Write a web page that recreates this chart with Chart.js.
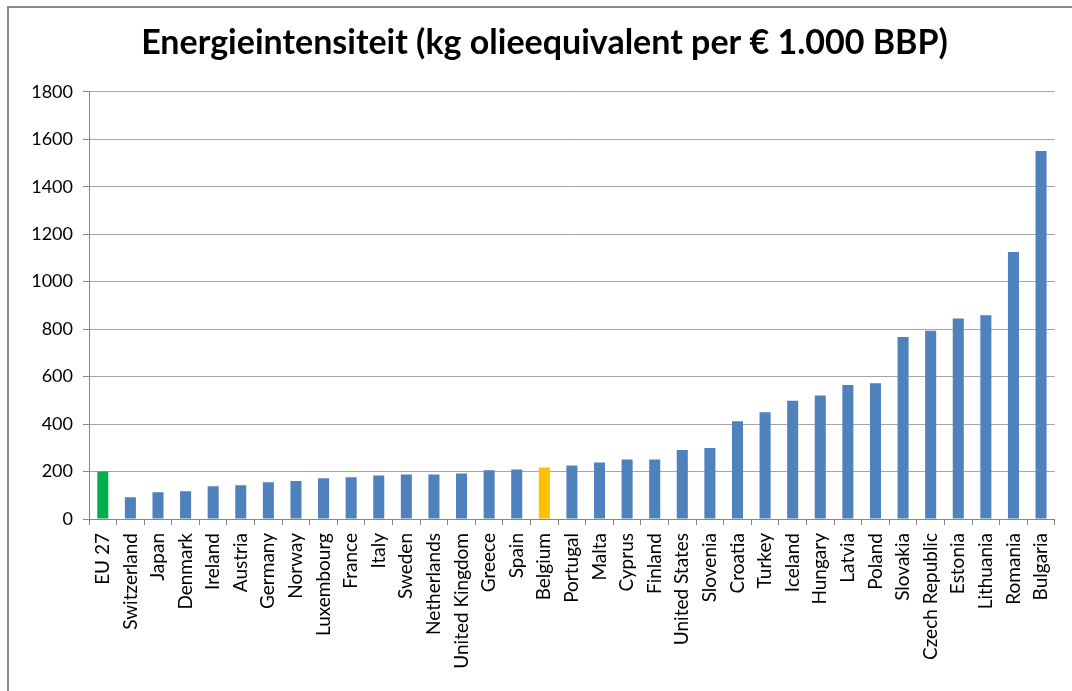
<!DOCTYPE html>
<html lang="nl">
<head>
    <meta charset="UTF-8">
    <title>Energieintensiteit</title>
    <script src="https://cdn.jsdelivr.net/npm/chart.js"></script>
</head>
<style>
	body{
		margin: 0;
		background: #fff;
	}
	#wrap{
		position: relative;
		width: 1072px;
		height: 691px;
	}
</style>
<body>
    <div id="wrap">
        <canvas id="myChart" width="1072" height="691"></canvas>
    </div>

    <script>
        const countries = ['EU 27', 'Switzerland', 'Japan', 'Denmark', 'Ireland', 'Austria', 'Germany', 'Norway',
            'Luxembourg', 'France', 'Italy', 'Sweden', 'Netherlands', 'United Kingdom', 'Greece', 'Spain',
            'Belgium', 'Portugal', 'Malta', 'Cyprus', 'Finland', 'United States', 'Slovenia', 'Croatia',
            'Turkey', 'Iceland', 'Hungary', 'Latvia', 'Poland', 'Slovakia', 'Czech Republic', 'Estonia',
            'Lithuania', 'Romania', 'Bulgaria'];
        const intensity = [200, 92, 113, 117, 138, 142, 155, 160,
            172, 176, 183, 188, 188, 192, 205, 209,
            217, 225, 238, 251, 251, 291, 299, 412,
            450, 498, 520, 565, 572, 767, 793, 845,
            859, 1125, 1551];
        const yTicks = [0, 200, 400, 600, 800, 1000, 1200, 1400, 1600, 1800];

        const green = ['EU 27'];   // gemiddelde
        const orange = ['Belgium']; // eigen land

        const labelFont = 'Lato, "Open Sans", sans-serif';

        // grijze kader rond de grafiek (loopt door buiten beeld)
        const frame = {
            id: 'frame',
            afterDraw(chart) {
                const c = chart.ctx;
                c.save();
                c.strokeStyle = '#8a8a8a';
                c.lineWidth = 2;
                c.beginPath();
                c.moveTo(8, chart.height);
                c.lineTo(8, 7);
                c.lineTo(chart.width, 7);
                c.stroke();
                c.restore();
            }
        };

        const ctx = document.getElementById('myChart').getContext('2d');
        new Chart(ctx, {
            type: 'bar',
            data: {
                labels: countries,
                datasets: [{
                    label: 'kg olieequivalent per € 1.000 BBP',
                    data: intensity,
                    backgroundColor: countries.map(c => green.includes(c) ? '#00B050' : (orange.includes(c) ? '#FFC000' : '#4F81BD')),
                    borderWidth: 0,
                    barPercentage: 0.4,
                    categoryPercentage: 1
                }]
            },
            options: {
                responsive: false,
                animation: false,
                layout: {
                    padding: { left: 28, right: 11, top: 0, bottom: 0 }
                },
                plugins: {
                    legend: { display: false },
                    tooltip: { enabled: false },
                    title: {
                        display: true,
                        text: 'Energieintensiteit (kg olieequivalent per € 1.000 BBP)',
                        color: '#000',
                        font: { family: labelFont, size: 34, weight: 'bold' },
                        padding: { top: 23, bottom: 28 }
                    }
                },
                scales: {
                    y: {
                        min: 0,
                        max: 1800,
                        afterBuildTicks: s => { s.ticks = yTicks.map(v => ({ value: v })); },
                        afterFit: s => { s.width = 61; },
                        border: { color: '#868686', width: 1 },
                        grid: { color: '#A6A6A6', tickLength: 6, tickColor: '#868686' },
                        ticks: {
                            color: '#000',
                            padding: 10,
                            font: { family: labelFont, size: 18 },
                            callback: v => String(v)
                        }
                    },
                    x: {
                        afterFit: s => { s.height = 172; },
                        border: { color: '#868686', width: 1 },
                        grid: { drawOnChartArea: false, tickLength: 6, color: '#868686' },
                        ticks: {
                            color: '#000',
                            minRotation: 90,
                            maxRotation: 90,
                            autoSkip: false,
                            padding: 8,
                            font: { family: labelFont, size: 19 }
                        }
                    }
                }
            },
            plugins: [frame]
        });
    </script>
</body>
</html>
